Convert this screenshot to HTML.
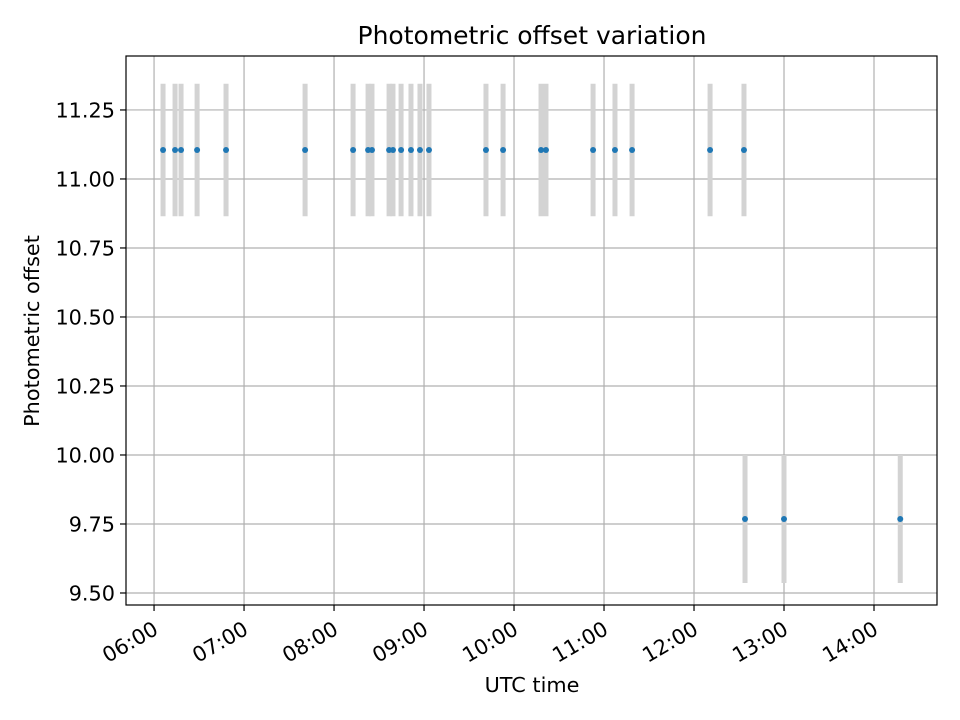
<!DOCTYPE html>
<html><head><meta charset="utf-8">
<style>
html,body{margin:0;padding:0;background:#fff;}
svg{display:block;font-family:"DejaVu Sans","Liberation Sans",sans-serif;}
</style></head>
<body>
<svg id="chart" width="960" height="720" viewBox="0 0 960 720">
<rect width="960" height="720" fill="#fff"/>
<g id="grid"></g>
<g id="errs"></g>
<g id="pts"></g>
<rect x="126" y="56" width="811" height="549" fill="none" stroke="#000" stroke-width="1.2"/>
<g id="axes"></g>
<text x="532" y="44" text-anchor="middle" style="font-size:25px">Photometric offset variation</text>
<text x="532" y="692" text-anchor="middle" style="font-size:20.8px">UTC time</text>
<text transform="translate(39,331) rotate(-90)" text-anchor="middle" style="font-size:20.8px">Photometric offset</text>
</svg>
<script>
// minutes after 06:00 UTC
const times = [6,14,18,28.7,48,100.7,132.7,142.7,145.3,156.7,159.3,164.7,171.3,177.3,183.3,221.3,232.7,258,261.3,292.7,307.3,318.7,370.7,393.3,394,420,497.5];
const offsets = [11.105,11.105,11.105,11.105,11.105,11.105,11.105,11.105,11.105,11.105,11.105,11.105,11.105,11.105,11.105,11.105,11.105,11.105,11.105,11.105,11.105,11.105,11.105,11.105,9.768,9.768,9.768];
const errors = [0.24,0.24,0.24,0.24,0.24,0.24,0.24,0.24,0.24,0.24,0.24,0.24,0.24,0.24,0.24,0.24,0.24,0.24,0.24,0.24,0.24,0.24,0.24,0.24,0.232,0.232,0.232];
const xTickMinutes = [0,60,120,180,240,300,360,420,480];
const xTickLabels = ["06:00","07:00","08:00","09:00","10:00","11:00","12:00","13:00","14:00"];
const yTicks = [9.5,9.75,10.0,10.25,10.5,10.75,11.0,11.25];
const yTickLabels = ["9.50","9.75","10.00","10.25","10.50","10.75","11.00","11.25"];

const X0=126,X1=937,Y0=56,Y1=605;
const xMin=-18.7,xMax=522, yMin=9.4565, yMax=11.4455;
function sx(m){return X0+(m-xMin)/(xMax-xMin)*(X1-X0);}
function sy(v){return Y1-(v-yMin)/(yMax-yMin)*(Y1-Y0);}
const NS="http://www.w3.org/2000/svg";
function mk(tag,attrs,parent){const e=document.createElementNS(NS,tag);for(const k in attrs)e.setAttribute(k,attrs[k]);parent.appendChild(e);return e;}
const grid=document.getElementById('grid'),axes=document.getElementById('axes'),errs=document.getElementById('errs'),pts=document.getElementById('pts');

xTickMinutes.forEach((m,i)=>{
  const x=sx(m);
  const g=mk('line',{x1:x,x2:x,y1:Y0,y2:Y1,stroke:'#b0b0b0','stroke-width':1.2},grid);
  
  
  const t=mk('line',{x1:x,x2:x,y1:Y1,y2:Y1+6,stroke:'#000','stroke-width':1.2},axes);
  
  
  const l=mk('text',{transform:`translate(${x-2},${Y1+15}) rotate(-30)`,'text-anchor':'end','dominant-baseline':'hanging',style:'font-size:20.8px'},axes);
  l.textContent=xTickLabels[i];
  
  
});
yTicks.forEach((v,i)=>{
  const y=sy(v);
  const g=mk('line',{x1:X0,x2:X1,y1:y,y2:y,stroke:'#b0b0b0','stroke-width':1.2},grid);
  
  
  const t=mk('line',{x1:X0-6,x2:X0,y1:y,y2:y,stroke:'#000','stroke-width':1.2},axes);
  
  
  const l=mk('text',{x:X0-11,y:y+7.5,'text-anchor':'end',style:'font-size:20.8px'},axes);
  l.textContent=yTickLabels[i];
  
  
});
times.forEach((m,i)=>{
  const x=sx(m);
  const e=mk('line',{x1:x,x2:x,y1:sy(offsets[i]+errors[i]),y2:sy(offsets[i]-errors[i]),stroke:'#d3d3d3','stroke-width':5},errs);
  
  
  const c=mk('circle',{cx:x,cy:sy(offsets[i]),r:3,fill:'#1f77b4'},pts);
  
  
});
</script>
</body></html>
